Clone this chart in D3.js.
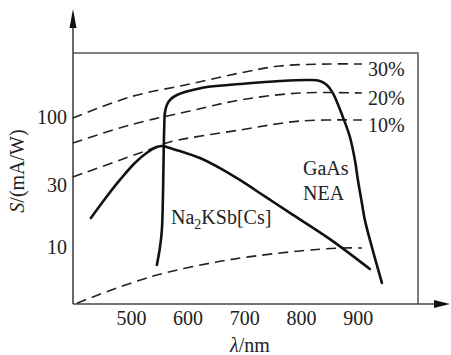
<!DOCTYPE html>
<html>
<head>
<meta charset="utf-8">
<script src="https://cdn.jsdelivr.net/npm/d3@7"></script>
<style>
  html, body { margin: 0; padding: 0; background: #fff; }
  svg { display: block; }
  text { font-family: "Liberation Serif", "DejaVu Serif", "Times New Roman", Times, serif; fill: #222; }
</style>
</head>
<body>
<svg id="chart" width="451" height="355"></svg>
<script>
// Wavelength ticks (nm) and sensitivity ticks (mA/W)
const xTicks = [500, 600, 700, 800, 900];
const yTicks = [10, 30, 100];

// GaAs NEA photocathode spectral sensitivity [lambda nm, S mA/W]
const gaasCurve = [
  [545.8, 7.27], [551.1, 9.82], [554.6, 13.5], [556.4, 23.0], [557.3, 39.1],
  [558.2, 66.5], [558.9, 86.8], [559.9, 107.3], [563.4, 123.7], [570.5, 137.5],
  [581.1, 147.6], [595.2, 155.7], [612.8, 162.8], [633.9, 170.1],
  [692.1, 179.4], [762.6, 189.2], [815.5, 192.6], [833.1, 189.2], [845.4, 176.3],
  [856.0, 152.9], [873.6, 100.0], [886.0, 70.2], [894.8, 46.7], [900.1, 32.8],
  [907.1, 21.8], [912.4, 16.1], [924.7, 10.0], [942.4, 5.29]
];

// Na2KSb[Cs] multialkali photocathode
const naCurve = [
  [429.5, 16.7], [454.2, 23.4], [480.6, 32.8], [507.0, 44.3], [530.0, 53.8],
  [545.8, 58.8], [556.4, 59.8], [568.7, 57.7], [586.4, 54.8], [621.6, 48.4],
  [656.9, 40.5], [692.1, 32.8], [736.2, 24.5], [780.2, 18.3], [850.7, 11.5],
  [921.2, 6.77]
];

// Constant quantum-efficiency reference lines
const qe30 = [[397.8, 98.2], [498.2, 142.5], [604.0, 179.4], [692.1, 218.0], [762.6, 246.8], [850.7, 255.7], [907.1, 255.7]];
const qe20 = [[397.8, 63.1], [498.2, 86.8], [604.0, 111.2], [692.1, 135.1], [797.8, 152.9], [907.1, 152.9]];
const qe10 = [[397.8, 34.6], [530.0, 55.7], [568.7, 64.2], [692.1, 79.4], [797.8, 93.1], [907.1, 94.8]];
const qe1  = [[405.0, 3.7], [533.5, 5.88], [671.0, 7.94], [797.8, 9.32], [868.3, 9.82], [907.1, 9.82]];
const qeLabels = ["30%", "20%", "10%"];
const qeLabelLevels = [qe30, qe20, qe10];

const serif = "'Liberation Serif', 'DejaVu Serif', 'Times New Roman', Times, serif";
const svg = d3.select("#chart");

const x = d3.scaleLinear().domain([398, 1006]).range([73, 418]);
const y = d3.scaleLog().domain([3.644, 310.7]).range([304, 53]);

const line = d3.line()
  .x(d => x(d[0]))
  .y(d => y(d[1]))
  .curve(d3.curveCatmullRom.alpha(0.5));

// Frame: top and right edges
svg.append("path")
  .attr("d", `M${x.range()[0]},${y.range()[1]}H${x.range()[1]}V${y.range()[0]}`)
  .attr("fill", "none").attr("stroke", "#555").attr("stroke-width", 1.5);

// Axes with arrowheads
const x0 = x.range()[0], y0 = y.range()[0];
svg.append("line").attr("x1", x0).attr("y1", y0).attr("x2", 437).attr("y2", y0)
  .attr("stroke", "#444").attr("stroke-width", 1.6);
svg.append("line").attr("x1", x0).attr("y1", y0).attr("x2", x0).attr("y2", 26)
  .attr("stroke", "#444").attr("stroke-width", 1.6);
svg.append("path").attr("d", `M450,${y0}L434,${y0 - 4}L434,${y0 + 4}Z`).attr("fill", "#111");
svg.append("path").attr("d", `M${x0},9L${x0 - 3.5},28L${x0 + 3.5},28Z`).attr("fill", "#111");

// Tick labels via d3 axes (no tick marks, no domain path)
const gx = svg.append("g").attr("transform", `translate(0,${y0})`)
  .call(d3.axisBottom(x).tickValues(xTicks).tickSize(0).tickPadding(7).tickFormat(d3.format("d")));
const gy = svg.append("g").attr("transform", `translate(${x0},0)`)
  .call(d3.axisLeft(y).tickValues(yTicks).tickSize(0).tickPadding(6).tickFormat(d3.format("d")));
[gx, gy].forEach(g => {
  g.attr("font-family", serif).attr("font-size", 20);
  g.select(".domain").remove();
  g.selectAll("text").attr("fill", "#222");
});

// Dashed quantum-efficiency lines
[qe30, qe20, qe10, qe1].forEach(d => {
  svg.append("path").datum(d).attr("d", line)
    .attr("fill", "none").attr("stroke", "#222").attr("stroke-width", 1.6)
    .attr("stroke-dasharray", "10,6");
});
qeLabels.forEach((t, i) => {
  const last = qeLabelLevels[i][qeLabelLevels[i].length - 1];
  svg.append("text").attr("x", x(last[0]) + 6).attr("y", y(last[1]) + 12)
    .attr("font-size", 20).text(t);
});

// Photocathode response curves
[gaasCurve, naCurve].forEach(d => {
  svg.append("path").datum(d).attr("d", line)
    .attr("fill", "none").attr("stroke", "#111").attr("stroke-width", 2.6)
    .attr("stroke-linejoin", "round").attr("stroke-linecap", "round");
});

// Curve labels
svg.append("text").attr("x", 303).attr("y", 175).attr("font-size", 20).text("GaAs");
svg.append("text").attr("x", 303).attr("y", 200).attr("font-size", 20).text("NEA");
const na = svg.append("text").attr("x", 171).attr("y", 224).attr("font-size", 20);
na.append("tspan").text("Na");
na.append("tspan").attr("font-size", 14).attr("dy", 5).text("2");
na.append("tspan").attr("dy", -5).text("KSb[Cs]");

// Axis titles
const xt = svg.append("text").attr("x", 250).attr("y", 352).attr("text-anchor", "middle").attr("font-size", 20);
xt.append("tspan").attr("font-style", "italic").text("λ");
xt.append("tspan").text("/nm");

const yt = svg.append("text").attr("transform", "translate(24,171) rotate(-90)")
  .attr("text-anchor", "middle").attr("font-size", 20);
yt.append("tspan").attr("font-style", "italic").text("S");
yt.append("tspan").text("/(mA/W)");
</script>
</body>
</html>
